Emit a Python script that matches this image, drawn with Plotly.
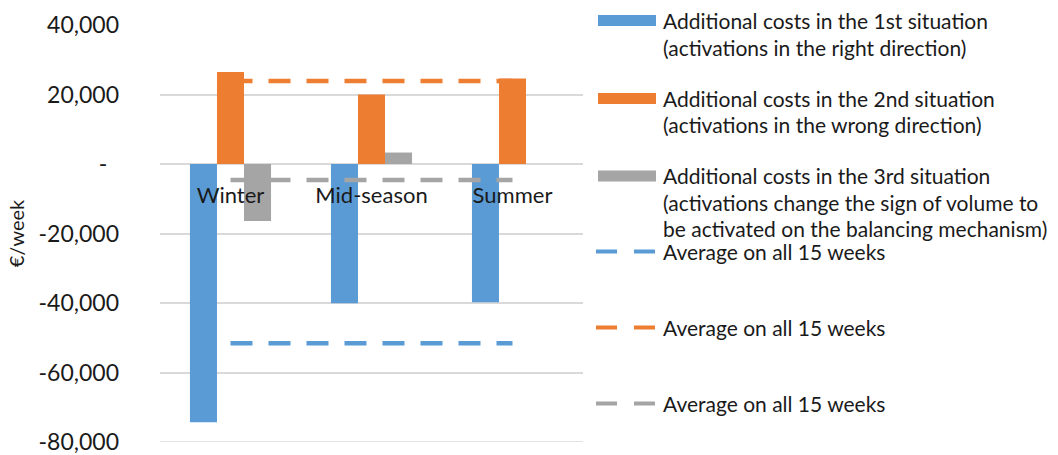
import plotly.graph_objects as go

# ---- data ----
categories = ["Winter", "Mid-season", "Summer"]
situation1 = [-74300, -40100, -39800]
situation2 = [26500, 20000, 24600]
situation3 = [-16400, 3300, 0]
avg1 = -51600
avg2 = 23900
avg3 = -4600

series_names = [
    "Additional costs in the 1st situation<br>(activations in the right direction)",
    "Additional costs in the 2nd situation<br>(activations in the wrong direction)",
    "Additional costs in the 3rd situation<br>(activations change the sign of volume to<br>be activated on the balancing mechanism)",
]
avg_names = ["Average on all 15 weeks"] * 3

y_tickvals = [-80000, -60000, -40000, -20000, 0, 20000, 40000]
y_ticktext = ["-80,000", "-60,000", "-40,000", "-20,000", "-\u00a0\u00a0", "20,000", "40,000"]
y_title = "€/week"

colors = ["#5B9BD5", "#ED7D31", "#A5A5A5"]
FONT = "Lato"
TXT = "#1a1a1a"
GRID = "#D9D9D9"

W, H = 1058, 455
ML, MR, MT, MB = 160, 475, 25, 13
PW, PH = W - ML - MR, H - MT - MB
y_range = [-80000, 40000]


def px_x(px):
    return (px - ML) / PW


def px_y(py):
    return (H - MB - py) / PH


fig = go.Figure()
for vals, name, c in zip([situation1, situation2, situation3], series_names, colors):
    fig.add_trace(go.Bar(x=categories, y=vals, name=name, marker=dict(color=c, line=dict(width=0))))

for a, name, c in zip([avg1, avg2, avg3], avg_names, colors):
    fig.add_trace(go.Scatter(x=categories, y=[a] * len(categories), mode="lines", name=name,
                             line=dict(color=c, width=4.5, dash="22px,16px")))

shapes = []
annotations = []

# bottom gridline (plotly skips the one on the range edge)
shapes.append(dict(type="line", xref="paper", yref="y", x0=0, x1=1,
                   y0=y_tickvals[0], y1=y_tickvals[0], layer="below",
                   line=dict(color=GRID, width=1.5)))

# ---- manual legend (Excel-style spacing) ----
rect_centers = [20.5, 98.5, 176]
line_centers = [[20, 47], [98.5, 125], [175, 202, 229]]
LEG_SIZE = 21
for c, cy, name, lc in zip(colors, rect_centers, series_names, line_centers):
    shapes.append(dict(type="rect", xref="paper", yref="paper",
                       x0=px_x(598), x1=px_x(656), y0=px_y(cy - 5.5), y1=px_y(cy + 5.5),
                       fillcolor=c, line=dict(width=0)))
    for line_txt, ly in zip(name.split("<br>"), lc):
        annotations.append(dict(xref="paper", yref="paper", x=px_x(661), y=px_y(ly),
                                xanchor="left", yanchor="middle", text=line_txt, showarrow=False,
                                font=dict(family=FONT, size=LEG_SIZE, color=TXT)))
avg_centers = [251.5, 327.5, 403.5]
for c, cy, name in zip(colors, avg_centers, avg_names):
    shapes.append(dict(type="line", xref="paper", yref="paper",
                       x0=px_x(596), x1=px_x(656), y0=px_y(cy), y1=px_y(cy),
                       line=dict(color=c, width=4, dash="21px,17px")))
    annotations.append(dict(xref="paper", yref="paper", x=px_x(661), y=px_y(cy),
                            xanchor="left", yanchor="middle", text=name, showarrow=False,
                            font=dict(family=FONT, size=LEG_SIZE, color=TXT)))

zero_pos = (0 - y_range[0]) / (y_range[1] - y_range[0])

fig.update_layout(
    width=W, height=H,
    margin=dict(l=ML, r=MR, t=MT, b=MB, pad=0, autoexpand=False),
    paper_bgcolor="white", plot_bgcolor="white",
    barmode="group", bargap=0.425, bargroupgap=0,
    showlegend=False,
    font=dict(family=FONT, color=TXT),
    shapes=shapes, annotations=annotations,
    xaxis=dict(type="category", anchor="free", position=zero_pos, showgrid=False,
               showline=False, ticks="", zeroline=False, automargin=False,
               tickfont=dict(family=FONT, size=22, color=TXT), ticklabelstandoff=16),
    yaxis=dict(range=y_range, tickvals=y_tickvals, ticktext=y_ticktext,
               showgrid=True, gridcolor=GRID, gridwidth=1.5, zeroline=False,
               showline=False, ticks="", ticklabelstandoff=40, automargin=False,
               ticklabeloverflow="allow",
               tickfont=dict(family=FONT, size=23, color=TXT),
               title=dict(text=y_title, font=dict(family=FONT, size=20, color=TXT), standoff=8)),
)

fig.write_html("out.html", config={"displayModeBar": False},
               post_script="document.body.style.margin='0';document.body.style.overflow='hidden';")
